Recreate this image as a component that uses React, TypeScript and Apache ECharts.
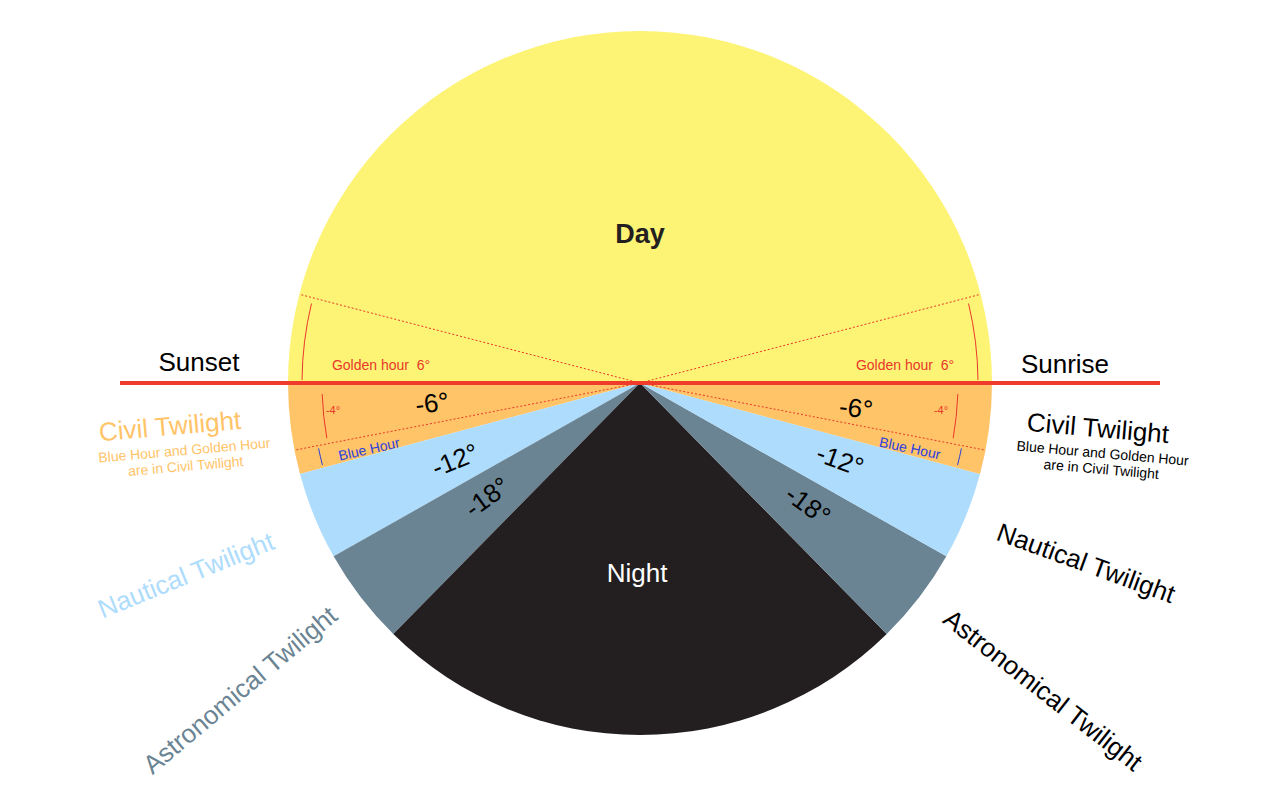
import React, { useEffect, useRef } from "react";
import * as echarts from "echarts";

// sectors counter-clockwise from the western horizon, in degrees
const sectorNames = [
  "Civil Twilight W",
  "Nautical Twilight W",
  "Astronomical Twilight W",
  "Night",
  "Astronomical Twilight E",
  "Nautical Twilight E",
  "Civil Twilight E",
  "Day",
];
const sectorDegrees = [15, 14.5, 16, 89, 16, 14.5, 15, 180];
const sectorColors = ["#ffc468", "#addcfd", "#6a8493", "#231f20", "#6a8493", "#addcfd", "#ffc468", "#fdf375"];

const CX = 640;
const CY = 383;
const R = 352;
const goldenDeg = 14.6;
const blueHourDeg = 11;

const rad = (d: number) => (d * Math.PI) / 180;

const App: React.FC = () => {
  const chartRef = useRef<HTMLDivElement>(null);

  useEffect(() => {
    if (!chartRef.current) return;
    const chart = echarts.init(chartRef.current, null, { renderer: "svg" });
    const font = "Arial, 'Liberation Sans', sans-serif";
    const txt = (
      text: string,
      x: number,
      y: number,
      size: number,
      fill: string,
      rotDeg = 0,
      extra: any = {}
    ) => ({
      type: "text",
      x,
      y,
      rotation: rad(rotDeg),
      z: 10,
      style: {
        text,
        fill,
        font: `${extra.bold ? "bold " : ""}${size}px ${font}`,
        align: extra.align || "center",
        verticalAlign: "middle",
        lineHeight: extra.lineHeight,
      },
    });
    const ray = (screenDeg: number) => ({
      type: "line",
      z: 5,
      shape: { x1: CX, y1: CY, x2: CX + R * Math.cos(rad(screenDeg)), y2: CY + R * Math.sin(rad(screenDeg)) },
      style: { stroke: "#e8372b", lineWidth: 1, lineDash: [2, 2] },
    });
    const arc = (r: number, a1: number, a2: number, color: string) => ({
      type: "arc",
      z: 6,
      shape: { cx: CX, cy: CY, r, startAngle: rad(Math.min(a1, a2)), endAngle: rad(Math.max(a1, a2)) },
      style: { stroke: color, lineWidth: 1, fill: "none" },
    });

    chart.setOption({
      animation: false,
      series: [
        {
          type: "pie",
          center: [CX, CY],
          radius: [0, R],
          startAngle: 180,
          clockwise: false,
          label: { show: false },
          labelLine: { show: false },
          emphasis: { disabled: true },
          silent: true,
          data: sectorDegrees.map((v, i) => ({
            name: sectorNames[i],
            value: v,
            itemStyle: { color: sectorColors[i] },
          })),
        },
      ],
      graphic: [
        ray(180 + goldenDeg),
        ray(360 - goldenDeg),
        ray(180 - blueHourDeg),
        ray(blueHourDeg),
        arc(338, 180.5, 180 + goldenDeg - 1, "#e8372b"),
        arc(338, 360 - goldenDeg + 1, 359.5, "#e8372b"),
        arc(318, 178, 180 - blueHourDeg + 1, "#e8372b"),
        arc(318, 2, blueHourDeg - 1, "#e8372b"),
        arc(328, 180 - blueHourDeg - 0.5, 180 - 15 + 0.5, "#2b3fe0"),
        arc(328, blueHourDeg + 0.5, 15 - 0.5, "#2b3fe0"),
        {
          type: "line",
          z: 7,
          shape: { x1: 120, y1: CY, x2: 1160, y2: CY },
          style: { stroke: "#ef3b2c", lineWidth: 4 },
        },
        txt("Day", 640, 234, 27, "#231f20", 0, { bold: true }),
        txt("Night", 637, 573, 26, "#ffffff"),
        txt("Sunset", 199, 362, 26, "#000000"),
        txt("Sunrise", 1065, 364, 26, "#000000"),
        txt("Golden hour  6°", 381, 365, 14, "#e8372b"),
        txt("Golden hour  6°", 905, 365, 14, "#e8372b"),
        txt("-4°", 333, 410, 11, "#e8372b"),
        txt("-4°", 941, 410, 11, "#e8372b"),
        txt("-6°", 432, 403, 26, "#000000", 7),
        txt("Blue Hour", 369, 449, 14, "#2b3fe0", 13),
        txt("-12°", 455, 460, 26, "#000000", 22),
        txt("-18°", 487, 497, 26, "#000000", 36),
        txt("-6°", 856, 408, 26, "#000000", -7),
        txt("Blue Hour", 910, 448, 14, "#2b3fe0", -12),
        txt("-12°", 840, 460, 26, "#000000", -20),
        txt("-18°", 808, 505, 26, "#000000", -36),
        txt("Civil Twilight", 170, 426, 26, "#ffc468", 5),
        txt("Blue Hour and Golden Hour\nare in Civil Twilight", 185, 458, 14, "#ffc468", 5, { lineHeight: 16 }),
        txt("Nautical Twilight", 186, 575, 26, "#addcfd", 22),
        txt("Astronomical Twilight", 240, 690, 26, "#6a8493", 40),
        txt("Civil Twilight", 1098, 428, 26, "#000000", -5),
        txt("Blue Hour and Golden Hour\nare in Civil Twilight", 1102, 461, 14, "#000000", -5, { lineHeight: 16 }),
        txt("Nautical Twilight", 1086, 563, 26, "#000000", -20),
        txt("Astronomical Twilight", 1043, 690, 26, "#000000", -38),
      ],
    });
    return () => chart.dispose();
  }, []);

  return (
    <div
      ref={chartRef}
      style={{ position: "fixed", left: 0, top: 0, width: 1280, height: 800, background: "#ffffff" }}
    />
  );
};

export default App;
